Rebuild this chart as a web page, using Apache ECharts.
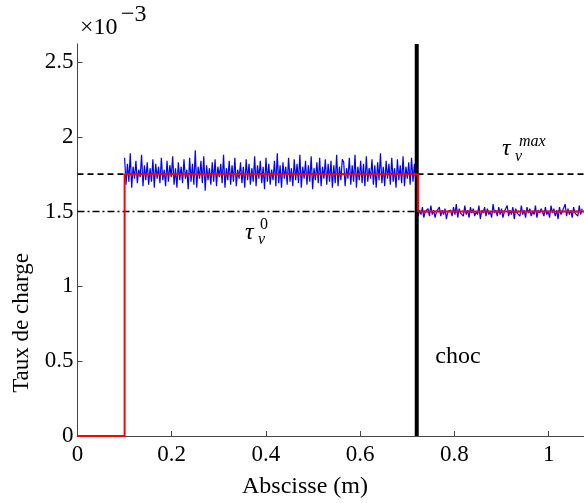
<!DOCTYPE html>
<html><head><meta charset="utf-8">
<script src="https://cdn.jsdelivr.net/npm/echarts@6/dist/echarts.min.js"></script>
<style>html,body{margin:0;padding:0;background:#fff}#c{width:584px;height:503px}</style>
</head><body><div id="c"></div>
<script>
// x range and y range (y in units of 1e-3)
const xMin = 0, xMax = 1.075, xInterval = 0.2;
const yMin = 0, yMax = 2.62, yInterval = 0.5;

// noisy measured charge rate (x 1e-3) before the shock, sampled every 0.003 m from x = 0.1
const blue1Start = 0.1, blueStep = 0.003;
const blue1Values = [
1.86,1.68,1.82,1.70,1.89,1.66,1.80,1.72,1.84,1.69,1.78,1.73,1.88,1.67,1.81,1.71,1.83,1.68,1.79,1.70,
1.85,1.66,1.82,1.72,1.80,1.69,1.86,1.71,1.78,1.67,1.84,1.70,1.81,1.73,1.87,1.68,1.79,1.66,1.83,1.71,
1.80,1.69,1.85,1.72,1.78,1.65,1.86,1.70,1.82,1.68,1.91,1.66,1.80,1.72,1.84,1.69,1.87,1.64,1.81,1.71,
1.79,1.68,1.83,1.70,1.85,1.67,1.80,1.73,1.82,1.69,1.88,1.66,1.79,1.71,1.84,1.68,1.81,1.70,1.86,1.67,
1.78,1.72,1.83,1.69,1.80,1.66,1.85,1.71,1.82,1.68,1.79,1.70,1.87,1.67,1.81,1.72,1.84,1.69,1.80,1.65,
1.86,1.70,1.82,1.68,1.78,1.71,1.84,1.67,1.89,1.69,1.81,1.66,1.83,1.72,1.80,1.68,1.86,1.70,1.79,1.67,
1.85,1.71,1.82,1.69,1.88,1.66,1.80,1.72,1.84,1.68,1.81,1.70,1.87,1.65,1.79,1.71,1.83,1.69,1.86,1.67,
1.80,1.72,1.85,1.68,1.82,1.70,1.84,1.66,1.81,1.69,1.88,1.67,1.80,1.71,1.85,1.83,1.67,1.79,1.72,1.86,
1.68,1.81,1.70,1.88,1.66,1.80,1.71,1.84,1.69,1.82,1.67,1.87,1.70,1.79,1.72,1.85,1.68,1.81,1.66,1.83,
1.71,1.89,1.69,1.80,1.67,1.84,1.72,1.82,1.68,1.86,1.70,1.79,1.66,1.85,1.71,1.81,1.69,1.87,1.67,1.80,
1.72,1.83,1.68,1.86,1.70,1.82,1.69
];
// after the shock, sampled every 0.003 m from x = 0.72
const blue2Start = 0.72;
const blue2Values = [
1.52,1.47,1.51,1.48,1.53,1.46,1.50,1.49,1.52,1.47,1.54,1.48,1.51,1.46,1.50,1.49,1.53,1.47,1.51,1.48,
1.52,1.45,1.50,1.49,1.51,1.47,1.53,1.48,1.55,1.46,1.52,1.49,1.50,1.47,1.54,1.48,1.51,1.46,1.53,1.49,
1.52,1.47,1.50,1.48,1.54,1.45,1.51,1.49,1.53,1.47,1.52,1.48,1.50,1.46,1.55,1.49,1.51,1.47,1.53,1.48,
1.52,1.46,1.50,1.49,1.54,1.47,1.51,1.48,1.53,1.45,1.52,1.49,1.50,1.47,1.54,1.48,1.51,1.46,1.53,1.49,
1.52,1.47,1.50,1.48,1.54,1.46,1.51,1.49,1.52,1.51,1.47,1.53,1.48,1.50,1.46,1.54,1.49,1.52,1.47,1.51,
1.45,1.53,1.48,1.50,1.49,1.55,1.47,1.52,1.48,1.51,1.46,1.53,1.49,1.50,1.47,1.54,1.48,1.52
];

// model step (red)
const redX = [0, 0.1, 0.1, 0.723, 0.723, 1.075];
const redY = [0, 0, 1.75, 1.75, 1.5, 1.5];

// reference levels
const tauMax = 1.75, tau0 = 1.5;
const chocX = 0.72;

const blueData = blue1Values.map((v, i) => [blue1Start + i * blueStep, v])
  .concat(blue2Values.map((v, i) => [blue2Start + i * blueStep, v]));
const redData = redX.map((x, i) => [x, redY[i]]);

const serif = '"Liberation Serif","DejaVu Serif",serif';
const chart = echarts.init(document.getElementById('c'), null, {renderer: 'canvas'});
chart.setOption({
  animation: false,
  grid: {left: 77.5, right: 0, top: 44, bottom: 67, containLabel: false},
  xAxis: {
    type: 'value', min: xMin, max: xMax, interval: xInterval,
    axisLine: {lineStyle: {color: '#444', width: 1}},
    axisTick: {inside: true, length: 5, lineStyle: {color: '#444'}},
    splitLine: {show: false},
    axisLabel: {color: '#000', fontFamily: serif, fontSize: 23, margin: 7, showMaxLabel: false},
  },
  yAxis: {
    type: 'value', min: yMin, max: yMax, interval: yInterval,
    axisLine: {show: true, lineStyle: {color: '#444', width: 1}},
    axisTick: {show: true, inside: true, length: 5, lineStyle: {color: '#444'}},
    splitLine: {show: false},
    axisLabel: {color: '#000', fontFamily: serif, fontSize: 23, margin: 4, showMaxLabel: false},
  },
  series: [
    {type: 'line', data: [[xMin, tauMax], [xMax, tauMax]], symbol: 'none', silent: true,
     lineStyle: {color: '#000', width: 1.6, type: [6, 4]}},
    {type: 'line', data: [[xMin, tau0], [xMax, tau0]], symbol: 'none', silent: true,
     lineStyle: {color: '#000', width: 1.4, type: [7, 3, 2, 3]}},
    {type: 'line', data: blueData, symbol: 'none', silent: true,
     lineStyle: {color: '#0000ff', width: 1.2}},
    {type: 'line', data: [[chocX, yMin], [chocX, yMax]], symbol: 'none', silent: true,
     lineStyle: {color: '#000', width: 4}},
    {type: 'line', data: redData, symbol: 'none', silent: true,
     lineStyle: {color: '#ff0000', width: 2}},
  ],
  graphic: [
    {type: 'text', style: {x: 80, y: 40, text: '×10', font: '24px ' + serif, fill: '#000', textVerticalAlign: 'bottom'}},
    {type: 'text', style: {x: 121, y: 27, text: '−3', font: '24px ' + serif, fill: '#000', textVerticalAlign: 'bottom'}},
    {type: 'text', rotation: Math.PI / 2, x: 22, y: 323,
     style: {x: 0, y: 0, text: 'Taux de charge', font: '23px ' + serif, fill: '#000', textAlign: 'center', textVerticalAlign: 'middle'}},
    {type: 'text', style: {x: 305, y: 487, text: 'Abscisse (m)', font: '24px ' + serif, fill: '#000', textAlign: 'center', textVerticalAlign: 'middle'}},
    {type: 'text', style: {x: 458, y: 357, text: 'choc', font: '24px ' + serif, fill: '#000', textAlign: 'center', textVerticalAlign: 'middle'}},
    {type: 'text', style: {x: 502, y: 161, text: 'τ', font: 'italic 24px ' + serif, fill: '#000', textVerticalAlign: 'bottom'}},
    {type: 'text', style: {x: 515, y: 165, text: 'v', font: 'italic 16px ' + serif, fill: '#000', textVerticalAlign: 'bottom'}},
    {type: 'text', style: {x: 519, y: 150, text: 'max', font: 'italic 16px ' + serif, fill: '#000', textVerticalAlign: 'bottom'}},
    {type: 'text', style: {x: 245, y: 245, text: 'τ', font: 'italic 24px ' + serif, fill: '#000', textVerticalAlign: 'bottom'}},
    {type: 'text', style: {x: 258, y: 248, text: 'v', font: 'italic 16px ' + serif, fill: '#000', textVerticalAlign: 'bottom'}},
    {type: 'text', style: {x: 260, y: 233, text: '0', font: '16px ' + serif, fill: '#000', textVerticalAlign: 'bottom'}},
  ]
});
</script></body></html>
